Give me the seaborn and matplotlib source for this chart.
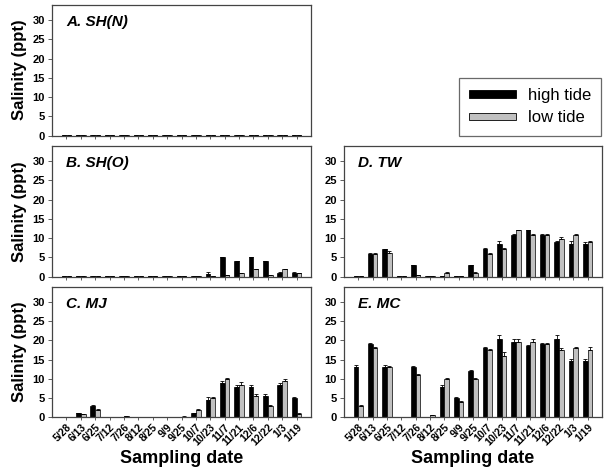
import numpy as np
import pandas as pd
import matplotlib
matplotlib.use("Agg")
import matplotlib.pyplot as plt
import matplotlib.patches as mpatches
import seaborn as sns

dates = ["5/28", "6/13", "6/25", "7/12", "7/26", "8/12", "8/25", "9/9", "9/25",
         "10/7", "10/23", "11/7", "11/21", "12/6", "12/22", "1/3", "1/19"]
tides = ["high tide", "low tide"]

# salinity means (ppt)
shn_high = [0.1, 0.1, 0.1, 0.1, 0.1, 0.1, 0.1, 0.1, 0.1, 0.1, 0.1, 0.1, 0.1, 0.2, 0.2, 0.1, 0.1]
shn_low = [0.1, 0.1, 0.1, 0.1, 0.1, 0.1, 0.1, 0.1, 0.1, 0.1, 0.1, 0.1, 0.1, 0.1, 0.1, 0.1, 0.1]
sho_high = [0.1, 0.1, 0.1, 0.1, 0.2, 0.1, 0.1, 0.1, 0.1, 0.2, 0.6, 5.0, 4.0, 5.0, 4.0, 1.0, 1.0]
sho_low = [0.1, 0.1, 0.1, 0.1, 0.2, 0.1, 0.1, 0.1, 0.1, 0.2, 0.2, 0.4, 0.9, 1.9, 0.4, 1.9, 0.9]
mj_high = [0.1, 1.0, 3.0, 0.1, 0.1, 0.1, 0.1, 0.1, 0.1, 1.0, 4.6, 9.0, 8.0, 8.0, 5.5, 8.4, 5.0]
mj_low = [0.1, 0.8, 2.0, 0.1, 0.3, 0.1, 0.1, 0.1, 0.2, 2.0, 5.0, 9.9, 8.4, 5.5, 3.0, 9.5, 0.9]
tw_high = [0.1, 6.0, 7.1, 0.1, 3.0, 0.1, 0.2, 0.1, 3.0, 7.1, 8.5, 10.9, 12.0, 10.9, 9.0, 8.5, 8.5]
tw_low = [0.1, 6.0, 6.2, 0.1, 0.4, 0.1, 1.0, 0.1, 1.0, 6.0, 7.1, 12.0, 10.9, 10.9, 9.9, 10.9, 9.0]
mc_high = [13.0, 19.0, 13.0, 0.1, 13.0, 0.1, 8.0, 5.0, 12.0, 18.0, 20.5, 19.5, 18.5, 19.0, 20.5, 14.6, 14.6]
mc_low = [3.0, 18.0, 13.0, 0.1, 11.0, 0.6, 9.9, 4.0, 9.9, 17.5, 16.0, 19.5, 19.5, 19.0, 17.5, 18.0, 17.5]

# upper error bars (ppt)
shn_high_err = [0.05] * 17
shn_low_err = [0.05] * 17
sho_high_err = [0, 0, 0, 0, 0.1, 0, 0, 0, 0, 0.1, 0.5, 0.2, 0.2, 0.2, 0.2, 0.1, 0.1]
sho_low_err = [0, 0, 0, 0, 0.1, 0, 0, 0, 0, 0.1, 0.1, 0.1, 0.1, 0.2, 0.1, 0.2, 0.1]
mj_high_err = [0, 0.1, 0.2, 0, 0, 0, 0, 0, 0, 0.2, 0.6, 0.4, 0.5, 0.3, 0.6, 0.5, 0.2]
mj_low_err = [0, 0.1, 0.2, 0, 0.1, 0, 0, 0, 0.1, 0.2, 0.3, 0.3, 0.7, 0.6, 0.2, 0.6, 0.1]
tw_high_err = [0, 0.2, 0.2, 0, 0.1, 0, 0.1, 0, 0.1, 0.3, 0.8, 0.3, 0.2, 0.2, 0.3, 0.7, 0.4]
tw_low_err = [0, 0.2, 0.4, 0, 0.1, 0, 0.1, 0, 0.1, 0.2, 0.3, 0.2, 0.3, 0.2, 0.3, 0.3, 0.2]
mc_high_err = [0.6, 0.3, 0.5, 0, 0.3, 0, 0.3, 0.3, 0.3, 0.4, 0.8, 0.8, 0.4, 0.3, 0.8, 0.7, 0.7]
mc_low_err = [0.3, 0.3, 0.3, 0, 0.3, 0.1, 0.3, 0.2, 0.3, 0.4, 1.0, 0.8, 0.8, 0.3, 0.5, 0.3, 0.7]

panels = [
    ("A. SH(N)", shn_high, shn_low, shn_high_err, shn_low_err),
    ("B. SH(O)", sho_high, sho_low, sho_high_err, sho_low_err),
    ("C. MJ", mj_high, mj_low, mj_high_err, mj_low_err),
    ("D. TW", tw_high, tw_low, tw_high_err, tw_low_err),
    ("E. MC", mc_high, mc_low, mc_high_err, mc_low_err),
]

sns.set_style("white")
plt.rcParams["font.family"] = ["Liberation Sans", "DejaVu Sans"]
plt.rcParams.update({"text.color": "black", "axes.labelcolor": "black",
                     "xtick.color": "black", "ytick.color": "black"})

W, H = 607, 475
fig = plt.figure(figsize=(W / 100, H / 100), dpi=100)

def box(x0, x1, y0, y1):
    return [x0 / W, 1 - y1 / H, (x1 - x0) / W, (y1 - y0) / H]

rects = [
    box(52, 311, 4.5, 135.7),
    box(52, 311, 145.7, 276.7),
    box(52, 311, 286.7, 417.3),
    box(344, 602, 145.7, 276.7),
    box(344, 602, 286.7, 417.3),
]
palette = {"high tide": "#000000", "low tide": "#c0c0c0"}
edge = "#444444"

for (title, hi, lo, hi_err, lo_err), rect in zip(panels, rects):
    ax = fig.add_axes(rect)
    df = pd.DataFrame({
        "date": dates * 2,
        "tide": [tides[0]] * len(dates) + [tides[1]] * len(dates),
        "salinity": hi + lo,
    })
    sns.barplot(data=df, x="date", y="salinity", hue="tide", order=dates,
                hue_order=tides, palette=palette, width=0.66, gap=0,
                errorbar=None, edgecolor="black", linewidth=0.5,
                legend=False, ax=ax)
    for cont, errs in zip(ax.containers, [hi_err, lo_err]):
        xs = [b.get_x() + b.get_width() / 2 for b in cont]
        ys = [b.get_height() for b in cont]
        ax.errorbar(xs, ys, yerr=[np.zeros(len(errs)), errs], fmt="none",
                    ecolor="black", elinewidth=0.6, capsize=1.3, capthick=0.6)
    ax.set_xlim(-1, len(dates))
    ax.set_ylim(0, 34)
    ax.set_yticks(range(0, 31, 5))
    ax.tick_params(axis="y", labelsize=8, length=3, width=0.6, color=edge,
                   direction="out", left=True, pad=2)
    ax.tick_params(axis="x", length=2.5, width=0.6, color=edge,
                   direction="out", bottom=True, pad=1)
    for lab in ax.get_yticklabels():
        lab.set_fontweight("bold")
    ax.set_xlabel("")
    ax.set_ylabel("")
    for sp in ax.spines.values():
        sp.set_color(edge)
        sp.set_linewidth(0.9)
    ax.text(0.055, 0.87, title, transform=ax.transAxes, fontsize=11,
            fontweight="bold", fontstyle="italic", va="center", ha="left")
    if title[0] in "ABC":
        ax.set_ylabel("Salinity (ppt)", fontsize=12, fontweight="bold", labelpad=4)
    if title[0] in "CE":
        ax.set_xticks(range(len(dates)))
        ax.set_xticklabels(dates, rotation=45, ha="right", rotation_mode="anchor",
                           fontsize=7.5, fontweight="bold")
        ax.set_xlabel("Sampling date", fontsize=13, fontweight="bold", labelpad=2)
    else:
        ax.set_xticks(range(len(dates)))
        ax.set_xticklabels([])

handles = [mpatches.Patch(facecolor=palette[t], edgecolor="black", linewidth=0.6)
           for t in tides]
leg = fig.legend(handles, tides, loc="upper right",
                 bbox_to_anchor=(601 / W, 1 - 78 / H), fontsize=12,
                 frameon=True, fancybox=False, handlelength=2.8,
                 handleheight=0.3, handletextpad=0.7, borderpad=0.6,
                 labelspacing=0.45, borderaxespad=0)
leg.get_frame().set_edgecolor(edge)
leg.get_frame().set_linewidth(0.9)

fig.savefig("out.png", dpi=100)
